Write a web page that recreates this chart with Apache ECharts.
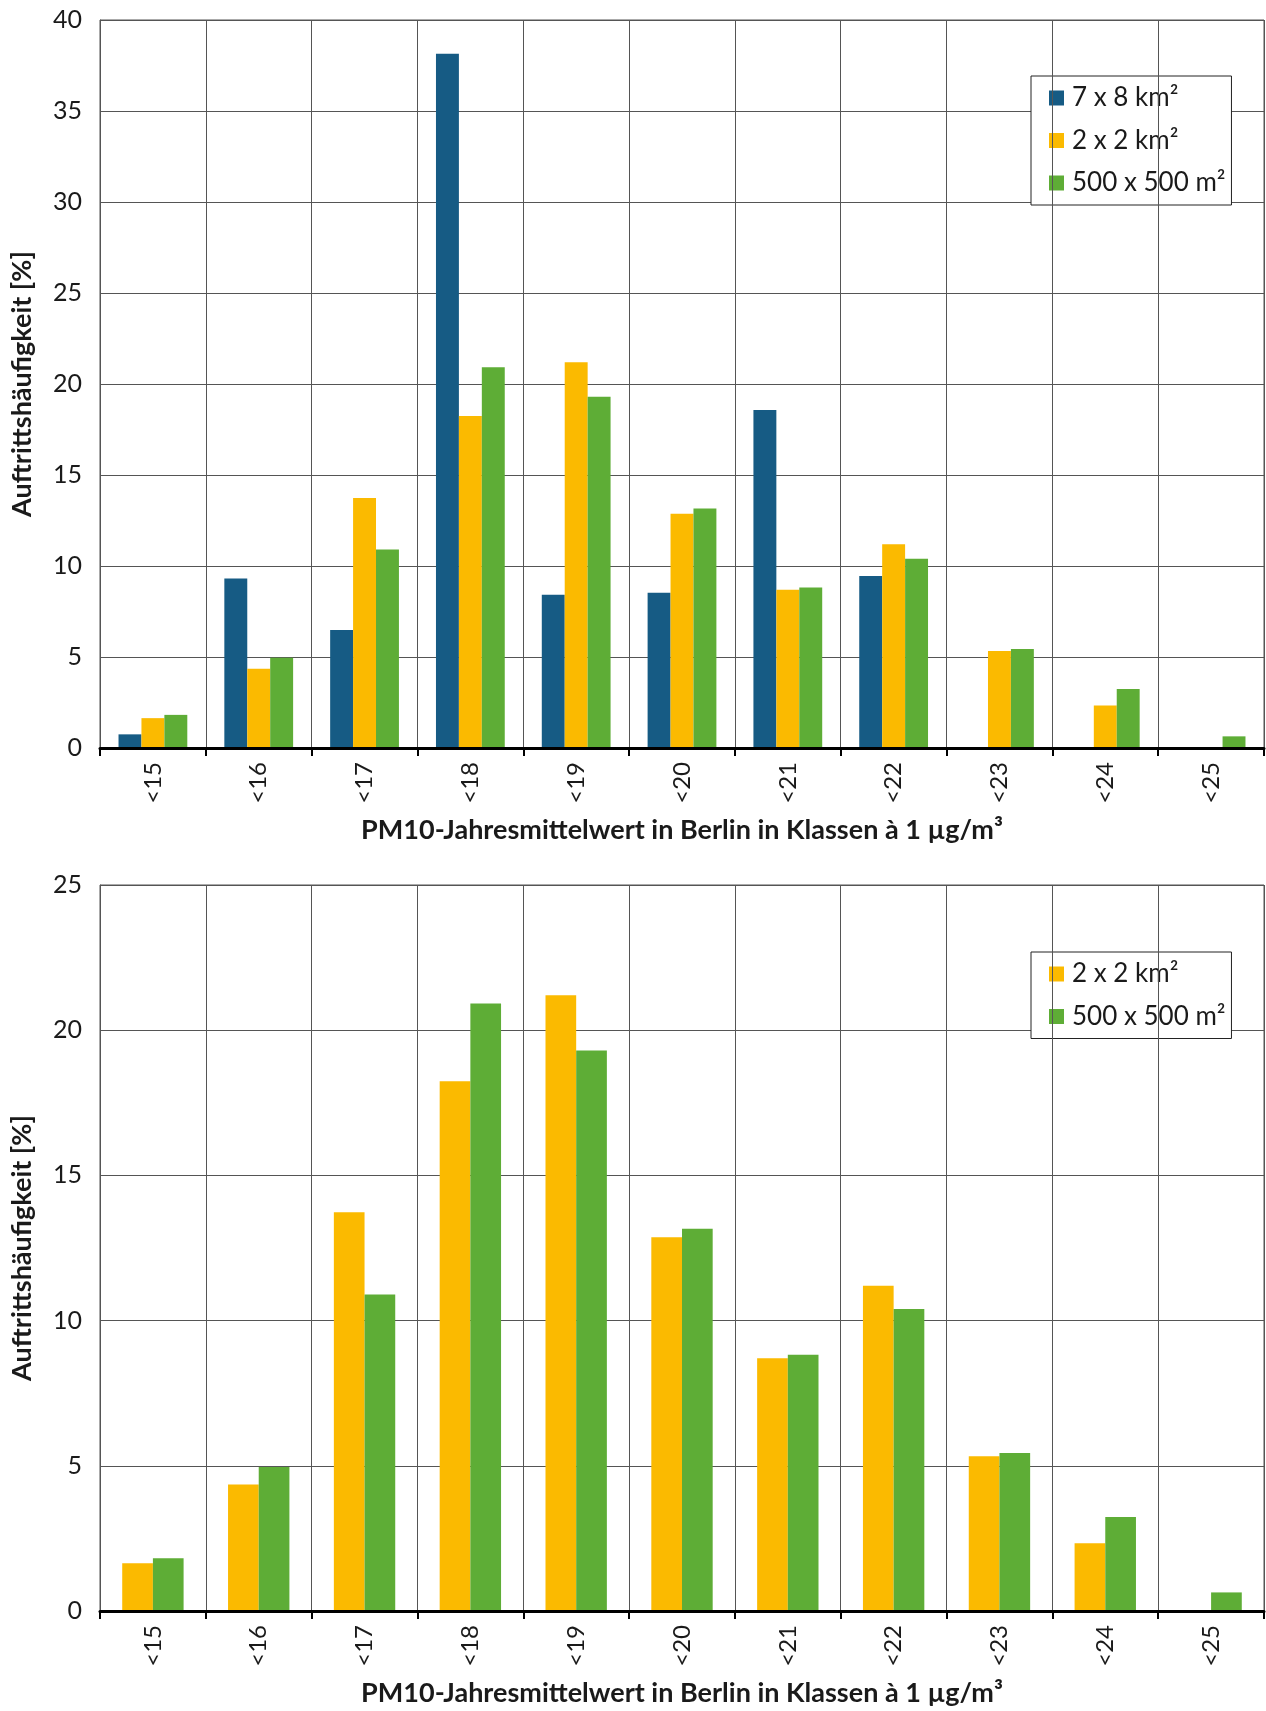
<!DOCTYPE html>
<html>
<head>
<meta charset="utf-8">
<script src="https://cdn.jsdelivr.net/npm/echarts@6/dist/echarts.min.js"></script>
<style>
html,body{margin:0;padding:0;background:#fff;}
#c{width:1266px;height:1711px;}
</style>
</head>
<body>
<div id="c"></div>
<script>
const categories = ['<15','<16','<17','<18','<19','<20','<21','<22','<23','<24','<25'];
const seriesNames = ['7 x 8 km²', '2 x 2 km²', '500 x 500 m²'];
const grid7x8 = [0.75, 9.32, 6.49, 38.14, 8.42, 8.53, 18.57, 9.45, 0, 0, 0];
const grid2x2 = [1.64, 4.36, 13.73, 18.24, 21.2, 12.87, 8.7, 11.2, 5.33, 2.33, 0];
const grid500 = [1.82, 4.96, 10.9, 20.92, 19.3, 13.16, 8.82, 10.4, 5.44, 3.24, 0.64];
const yTicksTop = {min: 0, max: 40, interval: 5};
const yTicksBottom = {min: 0, max: 25, interval: 5};
const xTitle = 'PM10-Jahresmittelwert in Berlin in Klassen à 1 µg/m³';
const yTitle = 'Auftrittshäufigkeit [%]';

const colors = ['#165B84', '#FBBA00', '#5EAD36'];
const FONT = 'Lato';

function xAxis(gridIndex) {
  return {
    type: 'category', gridIndex, data: categories,
    boundaryGap: true, z: 5,
    axisLine: {show: true, lineStyle: {color: '#000', width: 3}},
    axisTick: {show: true, length: 8, alignWithLabel: false, lineStyle: {color: '#000', width: 2}},
    splitLine: {show: true, lineStyle: {color: '#555', width: 1}},
    axisLabel: {rotate: 90, margin: 14, fontFamily: FONT, fontSize: 24, color: '#1a1a1a'},
    name: xTitle, nameLocation: 'middle', nameGap: 69,
    nameTextStyle: {fontFamily: FONT, fontWeight: 'bold', fontSize: 27, color: '#1a1a1a'}
  };
}
function yAxis(gridIndex, t) {
  return {
    type: 'value', gridIndex, min: t.min, max: t.max, interval: t.interval,
    axisLine: {show: true, lineStyle: {color: '#555', width: 1}},
    axisTick: {show: false},
    splitLine: {show: true, lineStyle: {color: '#555', width: 1}},
    axisLabel: {margin: 18, fontFamily: FONT, fontSize: 25, color: '#1a1a1a'},
    name: yTitle, nameLocation: 'middle', nameGap: 64,
    nameTextStyle: {fontFamily: FONT, fontWeight: 'bold', fontSize: 27, color: '#1a1a1a'}
  };
}
const legendCommon = {
  orient: 'vertical', itemWidth: 15, itemHeight: 15, itemGap: 16.5,
  backgroundColor: '#fff', borderColor: '#222', borderWidth: 1,
  padding: [9, 6, 9, 18], icon: 'rect', selectedMode: false,
  textStyle: {fontFamily: FONT, fontSize: 26, color: '#1a1a1a', lineHeight: 26, padding: [0,0,0,3]}
};

const option = {
  animation: false,
  color: colors,
  grid: [
    {left: 100, right: 2, top: 20, bottom: 963, show: true, borderColor: '#555', borderWidth: 1},
    {left: 100, right: 2, top: 885, bottom: 100, show: true, borderColor: '#555', borderWidth: 1}
  ],
  xAxis: [xAxis(0), xAxis(1)],
  yAxis: [yAxis(0, yTicksTop), yAxis(1, yTicksBottom)],
  legend: [
    Object.assign({}, legendCommon, {left: 1031, top: 76, data: seriesNames}),
    Object.assign({}, legendCommon, {left: 1031, top: 952, data: seriesNames.slice(1)})
  ],
  series: [
    {name: seriesNames[0], type: 'bar', xAxisIndex: 0, yAxisIndex: 0, data: grid7x8, barGap: '0%', barCategoryGap: '35%', itemStyle: {color: colors[0]}},
    {name: seriesNames[1], type: 'bar', xAxisIndex: 0, yAxisIndex: 0, data: grid2x2, barGap: '0%', barCategoryGap: '35%', itemStyle: {color: colors[1]}},
    {name: seriesNames[2], type: 'bar', xAxisIndex: 0, yAxisIndex: 0, data: grid500, barGap: '0%', barCategoryGap: '35%', itemStyle: {color: colors[2]}},
    {name: seriesNames[1], type: 'bar', xAxisIndex: 1, yAxisIndex: 1, data: grid2x2, barGap: '0%', barCategoryGap: '42%', itemStyle: {color: colors[1]}},
    {name: seriesNames[2], type: 'bar', xAxisIndex: 1, yAxisIndex: 1, data: grid500, barGap: '0%', barCategoryGap: '42%', itemStyle: {color: colors[2]}}
  ]
};
const chart = echarts.init(document.getElementById('c'), null, {renderer: 'canvas'});
chart.setOption(option);
</script>
</body>
</html>
